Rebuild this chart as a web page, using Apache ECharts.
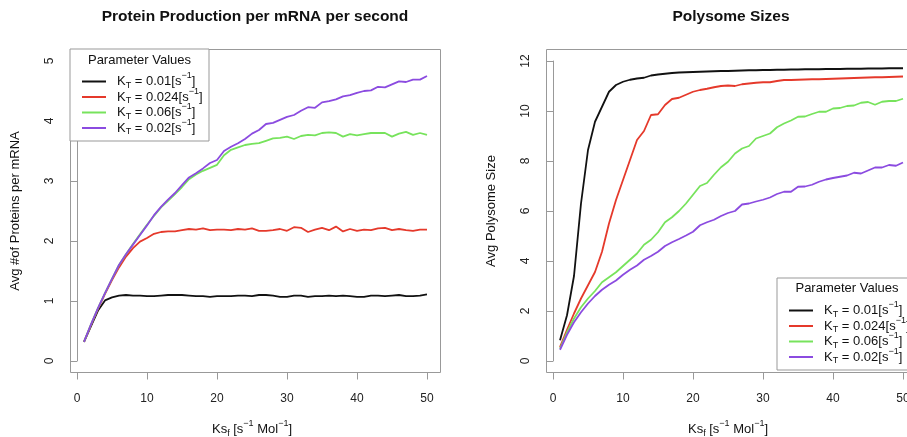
<!DOCTYPE html>
<html>
<head>
<meta charset="utf-8">
<script src="https://cdn.jsdelivr.net/npm/echarts@6/dist/echarts.min.js"></script>
<style>
  html, body { margin: 0; padding: 0; background: #fff; }
  #chart { width: 907px; height: 437px; }
</style>
</head>
<body>
<div id="chart"></div>
<script>
// ── Data ──
var ksf = [1, 2, 3, 4, 5, 6, 7, 8, 9, 10, 11, 12, 13, 14, 15, 16, 17, 18, 19, 20,
  21, 22, 23, 24, 25, 26, 27, 28, 29, 30, 31, 32, 33, 34, 35, 36, 37, 38, 39, 40,
  41, 42, 43, 44, 45, 46, 47, 48, 49, 50];

// Protein production per mRNA per second
var protK001 = [0.32, 0.58, 0.84, 1.01, 1.06, 1.09, 1.10, 1.09, 1.09, 1.08,
  1.08, 1.09, 1.10, 1.10, 1.10, 1.09, 1.08, 1.08, 1.07, 1.08,
  1.08, 1.08, 1.09, 1.09, 1.08, 1.10, 1.10, 1.09, 1.07, 1.07,
  1.09, 1.09, 1.07, 1.08, 1.08, 1.09, 1.08, 1.09, 1.08, 1.07,
  1.07, 1.09, 1.09, 1.08, 1.09, 1.10, 1.08, 1.08, 1.09, 1.11];
var protK0024 = [0.32, 0.60, 0.87, 1.12, 1.35, 1.56, 1.74, 1.88, 1.99, 2.05,
  2.12, 2.15, 2.16, 2.16, 2.18, 2.20, 2.19, 2.21, 2.18, 2.19,
  2.19, 2.18, 2.20, 2.19, 2.21, 2.17, 2.17, 2.18, 2.20, 2.17,
  2.23, 2.22, 2.15, 2.19, 2.22, 2.18, 2.24, 2.16, 2.20, 2.17,
  2.19, 2.18, 2.21, 2.22, 2.18, 2.20, 2.18, 2.17, 2.19, 2.19];
var protK006 = [0.32, 0.61, 0.88, 1.13, 1.37, 1.60, 1.78, 1.95, 2.11, 2.27,
  2.42, 2.56, 2.67, 2.78, 2.90, 3.03, 3.11, 3.17, 3.22, 3.27,
  3.43, 3.52, 3.56, 3.60, 3.62, 3.63, 3.67, 3.71, 3.72, 3.74,
  3.70, 3.75, 3.77, 3.76, 3.80, 3.81, 3.80, 3.74, 3.78, 3.76,
  3.78, 3.80, 3.80, 3.80, 3.74, 3.79, 3.82, 3.77, 3.80, 3.77];
var protK002 = [0.32, 0.61, 0.88, 1.13, 1.37, 1.60, 1.78, 1.94, 2.10, 2.26,
  2.43, 2.57, 2.69, 2.80, 2.93, 3.06, 3.13, 3.21, 3.30, 3.35,
  3.50, 3.57, 3.63, 3.70, 3.79, 3.85, 3.95, 3.97, 4.02, 4.07,
  4.10, 4.17, 4.23, 4.22, 4.31, 4.33, 4.36, 4.41, 4.43, 4.47,
  4.50, 4.51, 4.57, 4.56, 4.61, 4.66, 4.65, 4.69, 4.69, 4.75];

// Average polysome sizes
var polyK001 = [0.83, 1.83, 3.40, 6.30, 8.44, 9.57, 10.17, 10.77, 11.04, 11.17,
  11.25, 11.30, 11.33, 11.42, 11.46, 11.49, 11.52, 11.54, 11.55, 11.56,
  11.57, 11.58, 11.59, 11.60, 11.60, 11.61, 11.62, 11.63, 11.63, 11.64,
  11.64, 11.65, 11.65, 11.66, 11.66, 11.67, 11.67, 11.67, 11.68, 11.68,
  11.68, 11.69, 11.69, 11.69, 11.70, 11.70, 11.70, 11.71, 11.71, 11.71];
var polyK0024 = [0.56, 1.25, 1.90, 2.50, 3.03, 3.56, 4.37, 5.50, 6.44, 7.24,
  8.04, 8.84, 9.20, 9.84, 9.87, 10.24, 10.48, 10.53, 10.65, 10.77,
  10.84, 10.89, 10.95, 11.00, 11.02, 11.00, 11.07, 11.10, 11.13, 11.15,
  11.15, 11.20, 11.24, 11.24, 11.25, 11.26, 11.27, 11.27, 11.28, 11.29,
  11.30, 11.31, 11.32, 11.33, 11.34, 11.35, 11.35, 11.36, 11.37, 11.38];
var polyK006 = [0.50, 1.15, 1.70, 2.15, 2.50, 2.80, 3.15, 3.35, 3.55, 3.80,
  4.05, 4.30, 4.65, 4.85, 5.15, 5.55, 5.75, 6.00, 6.30, 6.65,
  7.00, 7.12, 7.45, 7.75, 7.97, 8.30, 8.50, 8.60, 8.90, 9.00,
  9.10, 9.35, 9.50, 9.62, 9.77, 9.78, 9.88, 9.97, 9.97, 10.10,
  10.12, 10.20, 10.22, 10.33, 10.36, 10.25, 10.37, 10.40, 10.40, 10.49];
var polyK002 = [0.45, 1.05, 1.55, 1.95, 2.30, 2.60, 2.85, 3.05, 3.22, 3.45,
  3.65, 3.82, 4.05, 4.20, 4.37, 4.60, 4.75, 4.88, 5.02, 5.17,
  5.43, 5.55, 5.65, 5.80, 5.92, 6.00, 6.26, 6.30, 6.38, 6.45,
  6.54, 6.68, 6.77, 6.77, 6.97, 6.98, 7.05, 7.17, 7.26, 7.32,
  7.37, 7.42, 7.53, 7.50, 7.62, 7.74, 7.74, 7.84, 7.81, 7.94];

var names = ['KT = 0.01', 'KT = 0.024', 'KT = 0.06', 'KT = 0.02'];
var labels = ['0.01', '0.024', '0.06', '0.02'];
var colors = ['#111111', '#e5392b', '#77e35c', '#8b4be0'];

var FONT = '"Liberation Sans", Arial, Helvetica, sans-serif';
var GRAY = '#999';

// sub/superscript pieces for rich text
var richParts = {
  sub: { fontSize: 9, height: 8, verticalAlign: 'bottom', fontFamily: FONT, color: '#111' },
  sup: { fontSize: 9, height: 5, verticalAlign: 'top', fontFamily: FONT, color: '#111' }
};

function pairs(ys) {
  return ksf.map(function (x, i) { return [x, ys[i]]; });
}

function lineSeries(idx, ys, k) {
  return {
    name: names[k], type: 'line', xAxisIndex: idx, yAxisIndex: idx,
    data: pairs(ys), showSymbol: false, symbol: 'none',
    lineStyle: { color: colors[k], width: 1.8 }, itemStyle: { color: colors[k] },
    animation: false, z: 2
  };
}

function xAxisAt(idx) {
  return {
    gridIndex: idx, type: 'value', min: 0, max: 50, interval: 10, offset: 11.5,
    name: 'Ks{sub|f} [s{sup|\u22121} Mol{sup|\u22121}]', nameLocation: 'middle', nameGap: 49,
    nameTextStyle: { fontFamily: FONT, fontSize: 13, color: '#111', lineHeight: 16, rich: richParts },
    axisLine: { onZero: false, lineStyle: { color: GRAY } },
    axisTick: { length: 7, lineStyle: { color: GRAY } },
    axisLabel: { margin: 20, fontFamily: FONT, fontSize: 12, color: '#222' },
    splitLine: { show: false }
  };
}

function yAxisAt(idx, max, step, title, off) {
  return {
    gridIndex: idx, type: 'value', min: 0, max: max, interval: step, offset: off,
    name: title, nameLocation: 'middle', nameGap: 48, nameRotate: 90,
    nameTextStyle: { fontFamily: FONT, fontSize: 13, color: '#111' },
    axisLine: { show: true, lineStyle: { color: GRAY } },
    axisTick: { show: true, length: 7, lineStyle: { color: GRAY } },
    axisLabel: { rotate: 90, margin: 14, fontFamily: FONT, fontSize: 12, color: '#222' },
    splitLine: { show: false }
  };
}

function legendAt(left, top) {
  return {
    left: left, top: top, orient: 'vertical', data: names, selectedMode: false,
    icon: 'rect', itemWidth: 24, itemHeight: 2, itemGap: -3,
    padding: [22.5, 6, 4.5, 12], borderColor: GRAY, borderWidth: 1, backgroundColor: '#fff',
    formatter: function (n) {
      return 'K{sub|T} = ' + labels[names.indexOf(n)] + '[s{sup|\u22121}]';
    },
    textStyle: { fontFamily: FONT, fontSize: 13, color: '#111', lineHeight: 16, width: 86, padding: [0, 0, 0, 6], rich: richParts }
  };
}

function boxAt(x, y, w, h) {
  return {
    type: 'rect', silent: true, z: 1,
    shape: { x: x + 0.5, y: y + 0.5, width: w, height: h },
    style: { fill: 'none', stroke: GRAY, lineWidth: 1 }
  };
}

var chart = echarts.init(document.getElementById('chart'), null, { renderer: 'canvas' });

chart.setOption({
  animation: false,
  backgroundColor: '#fff',
  title: [
    { text: 'Protein Production per mRNA per second', left: 255, top: 9, textAlign: 'center', padding: 0,
      textStyle: { fontFamily: FONT, fontSize: 15.5, fontWeight: 'bold', color: '#111' } },
    { text: 'Polysome Sizes', left: 731, top: 9, textAlign: 'center', padding: 0,
      textStyle: { fontFamily: FONT, fontSize: 15.5, fontWeight: 'bold', color: '#111' } },
    { text: 'Parameter Values', left: 139.5, top: 54, textAlign: 'center', padding: 0, z: 10,
      textStyle: { fontFamily: FONT, fontSize: 13, fontWeight: 'normal', color: '#111' } },
    { text: 'Parameter Values', left: 847, top: 282, textAlign: 'center', padding: 0, z: 10,
      textStyle: { fontFamily: FONT, fontSize: 13, fontWeight: 'normal', color: '#111' } }
  ],
  grid: [
    { left: 77, top: 61, width: 350, height: 300, outerBoundsMode: 'none' },
    { left: 553, top: 61, width: 350, height: 300, outerBoundsMode: 'none' }
  ],
  xAxis: [xAxisAt(0), xAxisAt(1)],
  yAxis: [
    yAxisAt(0, 5, 1, 'Avg #of Proteins per mRNA', 7),
    yAxisAt(1, 12, 2, 'Avg Polysome Size', 7)
  ],
  legend: [legendAt(70, 49), legendAt(777, 278)],
  graphic: [boxAt(70, 49, 370, 323), boxAt(546, 49, 371, 323)],
  series: [
    lineSeries(0, protK001, 0), lineSeries(0, protK0024, 1), lineSeries(0, protK006, 2), lineSeries(0, protK002, 3),
    lineSeries(1, polyK001, 0), lineSeries(1, polyK0024, 1), lineSeries(1, polyK006, 2), lineSeries(1, polyK002, 3)
  ]
});
</script>
</body>
</html>
